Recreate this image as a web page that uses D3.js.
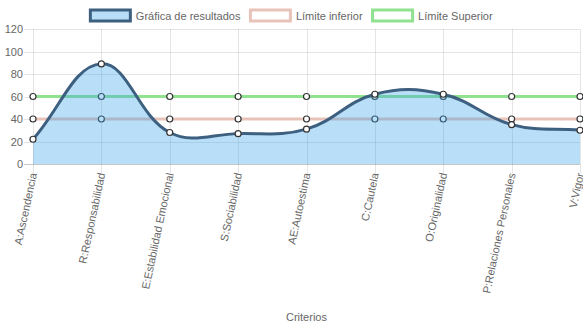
<!DOCTYPE html>
<html>
<head>
<meta charset="utf-8">
<script src="https://cdn.jsdelivr.net/npm/d3@7"></script>
<style>
  html, body { margin: 0; padding: 0; background: #fff; }
  svg { display: block; font-family: "Liberation Sans", Arial, Helvetica, sans-serif; }
</style>
</head>
<body>
<svg id="chart" width="583" height="328"></svg>
<script>
const categories = [
  "A:Ascendencia", "R:Responsabilidad", "E:Estabilidad Emocional", "S:Sociabilidad",
  "AE:Autoestima", "C:Cautela", "O:Originalidad", "P:Relaciones Personales", "V:Vigor"
];
const resultados     = [22, 89, 28, 27, 31, 62, 62, 35, 30];
const limiteInferior = [40, 40, 40, 40, 40, 40, 40, 40, 40];
const limiteSuperior = [60, 60, 60, 60, 60, 60, 60, 60, 60];
const yTicks = [0, 20, 40, 60, 80, 100, 120];
const seriesNames = ["Gráfica de resultados", "Límite inferior", "Límite Superior"];

const W = 583, H = 328;
const area = { left: 33, right: 580, top: 29, bottom: 164 };
const textColor = "#666";
const gridColor = "rgba(0,0,0,0.1)";
const fontSize = 11;

const svg = d3.select("#chart");

const x = d3.scalePoint().domain(categories).range([area.left, area.right]);
const y = d3.scaleLinear().domain([0, 120]).range([area.bottom, area.top]);

// Grid: horizontal lines with tick marks on the left
const gy = svg.append("g");
gy.selectAll("line").data(yTicks).join("line")
  .attr("x1", area.left - 9).attr("x2", area.right)
  .attr("y1", d => Math.round(y(d)) + 0.5).attr("y2", d => Math.round(y(d)) + 0.5)
  .attr("stroke", d => d === 0 ? "rgba(0,0,0,0.22)" : gridColor).attr("stroke-width", 1);
gy.selectAll("text").data(yTicks).join("text")
  .attr("x", area.left - 10).attr("y", d => y(d))
  .attr("text-anchor", "end").attr("dominant-baseline", "central")
  .attr("font-size", fontSize).attr("fill", textColor)
  .text(d => d);

// Grid: vertical lines with tick marks below
const gx = svg.append("g");
gx.selectAll("line").data(categories).join("line")
  .attr("x1", d => Math.round(x(d)) + 0.5).attr("x2", d => Math.round(x(d)) + 0.5)
  .attr("y1", area.top).attr("y2", area.bottom + 9)
  .attr("stroke", gridColor).attr("stroke-width", 1);
gx.selectAll("text").data(categories).join("text")
  .attr("transform", d => `translate(${x(d)},${area.bottom + 9}) rotate(-78)`)
  .attr("text-anchor", "end").attr("dominant-baseline", "central")
  .attr("font-size", fontSize).attr("fill", textColor)
  .text(d => d);

// Axis title
svg.append("text")
  .attr("x", (area.left + area.right) / 2).attr("y", 317)
  .attr("text-anchor", "middle").attr("dominant-baseline", "central")
  .attr("font-size", fontSize).attr("fill", textColor)
  .text("Criterios");

// Spline control points (tension 0.4), capped to the plot area
function controlPoints(pts, t) {
  return pts.map((cur, i) => {
    const prev = i > 0 ? pts[i - 1] : cur;
    const next = i < pts.length - 1 ? pts[i + 1] : cur;
    const d01 = Math.hypot(cur.x - prev.x, cur.y - prev.y);
    const d12 = Math.hypot(next.x - cur.x, next.y - cur.y);
    let s01 = d01 / (d01 + d12), s12 = d12 / (d01 + d12);
    if (isNaN(s01)) s01 = 0;
    if (isNaN(s12)) s12 = 0;
    const fa = t * s01, fb = t * s12;
    const clampY = v => Math.max(area.top, Math.min(area.bottom, v));
    return {
      px: cur.x - fa * (next.x - prev.x), py: clampY(cur.y - fa * (next.y - prev.y)),
      nx: cur.x + fb * (next.x - prev.x), ny: clampY(cur.y + fb * (next.y - prev.y))
    };
  });
}

function splinePath(values, closeToZero) {
  const pts = values.map((v, i) => ({ x: x(categories[i]), y: y(v) }));
  const cps = controlPoints(pts, 0.4);
  const p = d3.path();
  p.moveTo(pts[0].x, pts[0].y);
  for (let i = 1; i < pts.length; i++) {
    p.bezierCurveTo(cps[i - 1].nx, cps[i - 1].ny, cps[i].px, cps[i].py, pts[i].x, pts[i].y);
  }
  if (closeToZero) {
    p.lineTo(pts[pts.length - 1].x, y(0));
    p.lineTo(pts[0].x, y(0));
    p.closePath();
  }
  return p.toString();
}

function drawPoints(values) {
  svg.append("g").selectAll("circle").data(values).join("circle")
    .attr("cx", (d, i) => x(categories[i])).attr("cy", d => y(d))
    .attr("r", 3).attr("fill", "#fff").attr("stroke", "#333").attr("stroke-width", 1.2);
}

const colors = {
  resFill: "rgba(54,162,235,0.35)",
  resLine: "#3d5f80",
  inf: "#e8c3b9",
  sup: "#90e190"
};

// Limit series (drawn beneath the results)
svg.append("path").attr("d", splinePath(limiteSuperior, false))
  .attr("fill", "none").attr("stroke", colors.sup).attr("stroke-width", 3);
drawPoints(limiteSuperior);
svg.append("path").attr("d", splinePath(limiteInferior, false))
  .attr("fill", "none").attr("stroke", colors.inf).attr("stroke-width", 3);
drawPoints(limiteInferior);

// Results series
svg.append("path").attr("d", splinePath(resultados, true))
  .attr("fill", colors.resFill).attr("stroke", "none");
svg.append("path").attr("d", splinePath(resultados, false))
  .attr("fill", "none").attr("stroke", colors.resLine).attr("stroke-width", 3);
drawPoints(resultados);

// Legend
const legendItems = [
  { name: seriesNames[0], fill: colors.resFill, stroke: colors.resLine },
  { name: seriesNames[1], fill: "#fff", stroke: colors.inf },
  { name: seriesNames[2], fill: "#fff", stroke: colors.sup }
];
const lg = svg.append("g");
const boxW = 40, gap = fontSize / 2, pad = 10;
const widths = legendItems.map(it => {
  const t = lg.append("text").attr("font-size", fontSize).text(it.name);
  const w = t.node().getComputedTextLength();
  t.remove();
  return w;
});
const total = d3.sum(widths, w => boxW + gap + w + pad);
let cx = (W - total) / 2 + pad / 2;
legendItems.forEach((it, i) => {
  lg.append("rect").attr("x", cx).attr("y", 10).attr("width", boxW).attr("height", fontSize)
    .attr("fill", it.fill).attr("stroke", it.stroke).attr("stroke-width", 3);
  lg.append("text").attr("x", cx + boxW + gap).attr("y", 15.5)
    .attr("dominant-baseline", "central").attr("font-size", fontSize).attr("fill", textColor)
    .text(it.name);
  cx += boxW + gap + widths[i] + pad;
});
</script>
</body>
</html>
